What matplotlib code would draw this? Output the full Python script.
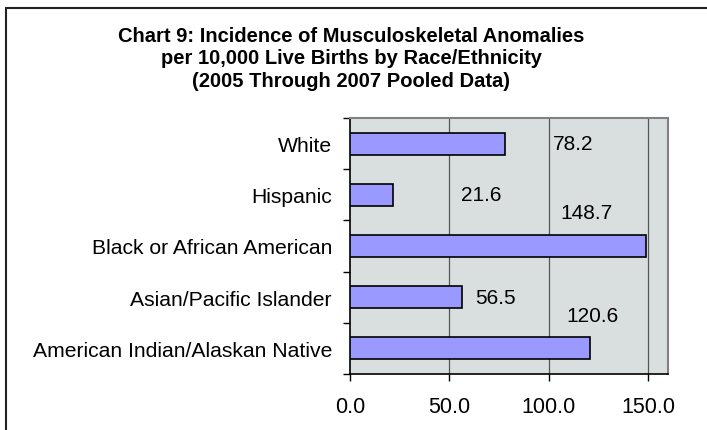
import matplotlib.pyplot as plt
from matplotlib.patches import Rectangle

# ── Data ────────────────────────────────────────────────────────────────────
categories = [
    "White",
    "Hispanic",
    "Black or African American",
    "Asian/Pacific Islander",
    "American Indian/Alaskan Native",
]
rates = [78.2, 21.6, 148.7, 56.5, 120.6]

# label offsets (points) from the end of each bar, as the spreadsheet placed them
label_offsets = [(34, 0), (49, 0), (-61, 24), (9, 0), (-17, 24)]

TITLE = ("Chart 9: Incidence of Musculoskeletal Anomalies\n"
         "per 10,000 Live Births by Race/Ethnicity\n"
         "(2005 Through 2007 Pooled Data)")

plt.rcParams["font.family"] = ["Liberation Sans", "DejaVu Sans"]

fig = plt.figure(figsize=(7.07, 4.31), dpi=100)
W, H = 707, 431

# outer chart border (runs off the right and bottom edges)
fig.patches.append(Rectangle((6 / W, -0.1), 1.2, 1 - 9 / H + 0.1,
                             transform=fig.transFigure, fill=False,
                             edgecolor="#222222", linewidth=1.5))

fig.text(0.497, 1 - 59 / H, TITLE, ha="center", va="center",
         fontsize=14.5, fontweight="bold", linespacing=1.25)

ax = fig.add_axes([350 / W, 1 - 375 / H, 318 / W, 256 / H])
ax.set_facecolor("#D9DFDF")

y = list(range(len(categories)))
ax.barh(y, rates, height=0.43, color="#9999FF", edgecolor="black",
        linewidth=1.2, zorder=3)

for i, (val, off) in enumerate(zip(rates, label_offsets)):
    ax.annotate(f"{val:.1f}", xy=(val, i), xytext=off,
                textcoords="offset points", ha="left", va="center",
                fontsize=15, zorder=4)

ax.set_xlim(0, 160)
ax.set_ylim(len(categories) - 0.5, -0.5)

ax.set_xticks([0, 50, 100, 150])
ax.set_xticklabels([f"{t:.1f}" for t in [0, 50, 100, 150]], fontsize=15.5)
ax.tick_params(axis="x", direction="out", length=5, width=1, pad=11)
for t in [50, 100, 150]:
    ax.axvline(t, color="#555555", linewidth=0.9, zorder=1)

ax.set_yticks(y)
ax.set_yticklabels(categories, fontsize=15.2)
ax.tick_params(axis="y", which="major", length=0, pad=13)
ax.set_yticks([i - 0.5 for i in range(len(categories) + 1)], minor=True)
ax.tick_params(axis="y", which="minor", direction="out", length=5, width=1)

for side in ["left", "bottom"]:
    ax.spines[side].set_color("black")
    ax.spines[side].set_linewidth(1.2)
for side in ["top", "right"]:
    ax.spines[side].set_color("#808080")
    ax.spines[side].set_linewidth(1.5)

plt.savefig("out.png", dpi=100)
